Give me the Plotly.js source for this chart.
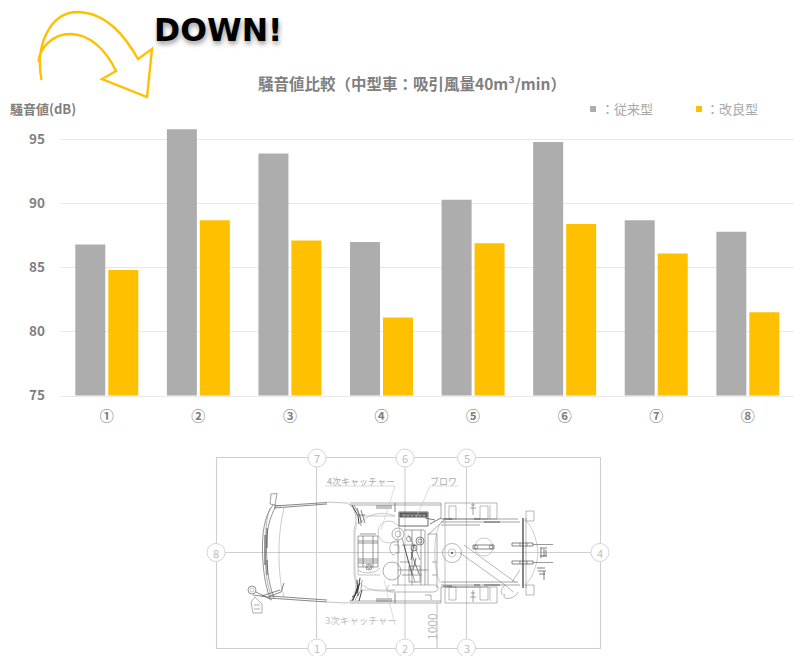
<!DOCTYPE html>
<html><head><meta charset="utf-8">
<script src="https://cdn.plot.ly/plotly-3.0.1.min.js"></script>
<style>html,body{margin:0;padding:0;background:#fff}#c{width:801px;height:656px}</style></head>
<body><div id="c"></div>
<script>
const categories=['①','②','③','④','⑤','⑥','⑦','⑧'];
const conventional=[86.8,95.8,93.9,87.0,90.3,94.8,88.7,87.8];
const improved=[84.8,88.7,87.1,81.1,86.9,88.4,86.1,81.5];
const seriesNames=['従来型','改良型'];
const grey='#adadad',gold='#ffc000',txt='#7f7f7f';
const font="'Noto Sans CJK JP','Noto Sans',sans-serif";
const W=801,H=656;

const traces=[
 {type:'bar',name:seriesNames[0],x:categories,y:conventional,marker:{color:grey},hoverinfo:'y'},
 {type:'bar',name:seriesNames[1],x:categories,y:improved,marker:{color:gold},hoverinfo:'y'}
];

const shapes=[];
const P=(d,c='#555',w=0.7,fill)=>shapes.push({type:'path',path:d,xref:'x2',yref:'y2',line:{color:c,width:w},fillcolor:fill||'rgba(0,0,0,0)',layer:'above'});
const C=(x,y,r,c='#555',w=0.7,fill)=>shapes.push({type:'circle',x0:x-r,x1:x+r,y0:y-r,y1:y+r,xref:'x2',yref:'y2',line:{color:c,width:w},fillcolor:fill||'rgba(0,0,0,0)',layer:'above'});
const R=(x0,y0,x1,y1,c='#555',w=0.7,fill)=>shapes.push({type:'rect',x0,x1,y0,y1,xref:'x2',yref:'y2',line:{color:c,width:w},fillcolor:fill||'rgba(0,0,0,0)',layer:'above'});

// arrow
P('M41.5,80 C35,45 50,12 78,12 C108,13 126,38 138,59 L152,49 L147,97 L102,79 L116,71 C106,50 90,34 70,34 C53,34 39,48 38.5,62',gold,2.4);

// frame + guide lines
const gl='#cfcfcf';
R(216.5,457.5,600.5,648.5,gl,1.1);
P('M316.5,457.5V648.5 M405,457.5V648.5 M466.5,457.5V648.5 M216.5,552.5H600.5',gl,1.1);

// cab
P('M273,505 C264,516 262,535 262.5,552 C263,570 265,585 270,598',"#777",0.8);
P('M276,506 C268,520 266,535 266.5,552 C267,570 269,585 274,598',"#777",0.8);
P('M270,508 C266,520 265,535 265,552 C265,570 267,585 271,595',"#999",0.7);
P('M274,506 L327,502.5 M274,508 L327,504 M268,598 L327,602 M270,596 L327,600',"#555",0.7);
P('M284,508 C280,525 279,540 279,552 C279,568 280,585 284,596',"#999",0.5);
P('M327,502 L347,503 C352,505 356,512 356,520 M327,602 L347,603 C352,602 355,595 356,585',"#888",0.5);
P('M356,520 L354,530 L354,575 L356,585 M357,522 L355,532 L355,573 L357,584',"#999",0.5);
P('M352,505 L358,516 L359,524 M352,601 L358,590 L360,578',"#444",1);
P('M354,505 L360,516 L361,526 M355,600 L361,590 L362,580',"#666",0.6);
P('M271,494 L277,493.5 L275,505 L270,504 Z M274,505 L281,506',"#777",0.7);
C(252,590,4,"#666",0.7); C(252,590,2,"#888",0.5);
P('M253,595 L268,597 L281,592 L284,583 M256,592 L272,600 M262,596 L280,590',"#555",0.7);
P('M251,602 L255,597 L262,604 L262,613 L253,613 Z M254,605 L260,605 M254,609 L260,609',"#777",0.6);
P('M267,548 V528 M267,560 V575 M265,535 V565',"#444",0.9);

// engine bay outline
P('M350,503 H441 M350,505 H441 M350,603 H441 M350,601 H441 M441,503 V519 M441,587 V603',"#777",0.6);
P('M376,506 H392 M376,508 H392 M376,601 H392 M376,599 H392 M395,503 V512 M395,593 V603',"#555",0.7);
P('M362,521 C372,512 385,512 395,516 M362,585 C372,592 385,592 395,590 M362,516 H395 M362,590 H395',"#999",0.5);
R(358,536,378,567,"#666",0.6);
P('M358,541 H378 M358,543 H378 M358,559 H378 M358,561 H378 M358,563 H378 M360,534 H376 M363,536 V567 M373,536 V567',"#555",0.6);
C(369,567,3,"#666",0.7); C(369,567,1.5,"#666",0.6);
P('M358,570 C362,574 376,574 380,568 M358,567 V575 H380',"#888",0.5);
C(389,532,11,"#999",0.5);
C(398,534,6,"#777",0.6); C(398,534,3,"#777",0.5);
C(392,571,9,"#777",0.6);
R(399,512,428,526,"#444",0.8);
R(400,513,427,517,"#333",0.8,"#777");
P('M404,515 V517 M408,515 V517 M412,515 V517 M416,515 V517 M420,515 V517 M424,515 V517',"#fff",0.5);
P('M395,555 C389,555 388,545 393,542 H399 M389,585 C386,588 386,592 392,592 H432 C440,592 440,585 434,585 H392 M394,545 H399 V553 H395',"#888",0.6);
P('M402,538 L408,560 L415,582 M408,535 L414,545 L420,560 M412,530 V585 M421,530 V585 M398,570 H428 M402,545 H418 M402,575 H422 M398,540 V585 M404,530 H424 M425,530 V585 M409,566 H420 V582 H409 Z M400,562 H410',"#666",0.6);
C(420,541,4,"#555",0.7); C(420,541,2,"#555",0.6); C(414,548,3,"#555",0.7); C(409,539,2.5,"#666",0.6);
P('M404,545 L412,575 M411,552 L419,574 M414,545 L411,560 M416,558 L413,570 M425,518 L435,520 M430,524 L441,518',"#444",0.7);
P('M428,534 H437 V588 M444,520 L428,535 M431,595 V600 M425,595 H431 M428,534 V585 M432,562 H437 M432,575 H437',"#777",0.6);
P('M358,585 L355,595 L352,597 M357,580 L358,596 M362,590 L359,601 M360,583 L353,600',"#333",0.9);
P('M357,508 L362,523 M361,510 L365,523 M358,515 L365,515',"#555",0.7);

// rear deck
R(445,503,497,519,"#888",0.6); R(445,587,497,603,"#888",0.6);
P('M449,506 V519 H456 V506 Z M480,506 V519 H488 V506 Z M449,587 V600 H456 V587 Z M480,587 V600 H488 V587 Z M490,505 V519 M490,587 V601',"#777",0.5);
P('M473,503 V515 M473,590 V602 M470,508 H476 M470,597 H476 M471,505 H475 M471,593 H475',"#666",0.6);
P('M441,519 H518 M441,522 H520 M441,525 H480 M441,582 H518 M441,585 H520 M441,587 H480',"#666",0.6);
P('M443,519 H452 M474,519 H480 M443,586 H452 M474,585 H480 M484,522 H500 M484,585 H500',"#444",0.8);
P('M445,519 V587',"#999",0.6);
P('M440,524 C433,535 433,570 440,582',"#999",0.5);
C(452,553,9.5,"#888",0.6); C(452,553,4,"#999",0.5); C(452,553,0.7,"#333",0.8);
C(484,547,9,"#999",0.5);
R(473,545,494,549,"#555",0.7);
C(476,547,1.8,"#555",0.6); C(491,547,1.8,"#555",0.6);
P('M460,553 L505,585 L513,592 M464,545 L515,582 M505,595 C500,600 515,600 518,592 M512,582 L520,570 M505,585 C500,590 500,595 505,595',"#888",0.6);
// rear end
P('M523,518 V588',"#666",1.6);
P('M526,518 V588',"#888",0.6);
R(526,511,534,521,"#888",0.6); R(526,585,534,595,"#888",0.6);
P('M522,519 C532,522 537,540 538,553 C537,565 532,582 522,587',"#999",0.5);
R(512,543,533,546,"#555",0.7); R(512,561,533,564,"#555",0.7);
P('M533,544.5 H553 M533,562.5 H553 M520,543 V546 M527,543 V546 M520,561 V564 M527,561 V564',"#555",0.6);
P('M540,548 H547 M540,556 H547 M541,548 V558 M544,549 V557 M546,550 V556 M537,568 H545 M538,571 H546 M539,574 H545 M544,571 V580',"#444",0.7);

// leader lines
const lg='#c4c4c4';
P('M325,486 H395 L381,530 M431,486 H458 M430,486 L416,518 M384,580 L395,625',lg,0.6);
P('M437,603 V648',"#999",0.6);

// number circles
const nums=[['7',317,458],['6',405,458],['5',466.5,458],['1',317,648],['2',405,648],['3',466.5,648],['8',216,552.5],['4',600,552.5]];
nums.forEach(n=>C(n[1],n[2],9,'#d5d5d5',1,'#fff'));

// legend swatches
R(590,106,596,112,grey,0,grey);
R(696,106,702,112,gold,0,gold);

const A=(x,y,text,size,color,extra)=>Object.assign({xref:'x2',yref:'y2',x,y,text,showarrow:false,font:{family:font,size,color},xanchor:'center',yanchor:'middle'},extra||{});
const annotations=[
 A(218,30,'<b>DOWN!</b>',31.5,'#000',{font:{family:"'DejaVu Sans',sans-serif",size:31.5,color:'#000',shadow:'1px 3px 5px rgba(0,0,0,.4)'}}),
 A(411.5,82.5,'<b>騒音値比較（中型車：吸引風量40m³/min）</b>',15.5,txt),
 A(7.5,108,'<b>騒音値(dB)</b>',13,txt,{xanchor:'left'}),
 A(598.5,108.5,'：'+seriesNames[0],13,'#a8a8a8',{xanchor:'left'}),
 A(704,108.5,'：'+seriesNames[1],13,'#a8a8a8',{xanchor:'left'}),
 A(361,481,'4次キャッチャー',9,'#aaa'),
 A(443,481,'ブロワ',9,'#aaa'),
 A(361,620,'3次キャッチャー',9.5,'#bbb'),
 A(431,627,'1000',12,'#bbb',{textangle:-90}),
].concat(nums.map(n=>A(n[1],n[2],n[0],11,'#bdbdbd')));

const layout={
 width:W,height:H,margin:{l:0,r:0,t:0,b:0},paper_bgcolor:'#fff',plot_bgcolor:'rgba(0,0,0,0)',
 showlegend:false,barmode:'group',bargap:0.28,bargroupgap:0.09,
 xaxis:{domain:[61/W,793.6/W],type:'category',ticks:'',ticklabelstandoff:8,showgrid:false,zeroline:false,
        showline:true,linecolor:'#e8e8e8',linewidth:1,tickfont:{family:font,size:14,color:txt,weight:'bold'},fixedrange:true},
 yaxis:{domain:[(H-395.5)/H,(H-126.7)/H],range:[75,96],tick0:75,dtick:5,ticks:'',ticklabelstandoff:15,
        gridcolor:'#e8e8e8',gridwidth:1,zeroline:false,showline:false,
        tickfont:{family:font,size:13.5,color:txt,weight:'bold'},fixedrange:true},
 xaxis2:{domain:[0,1],range:[0,W],visible:false,anchor:'y2',fixedrange:true},
 yaxis2:{domain:[0,1],range:[H,0],visible:false,anchor:'x2',fixedrange:true},
 shapes,annotations
};
Plotly.newPlot('c',traces,layout,{displayModeBar:false,staticPlot:true});
</script></body></html>
